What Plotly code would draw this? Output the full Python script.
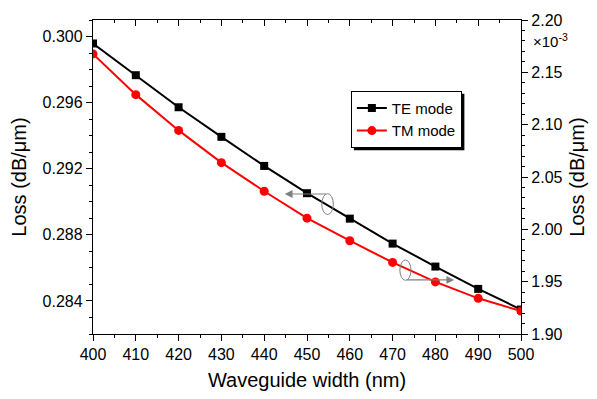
import plotly.graph_objects as go

# Waveguide width sweep (nm)
width_nm = [400, 410, 420, 430, 440, 450, 460, 470, 480, 490, 500]

# TE mode loss (dB/um), left axis
te_loss = [0.29958, 0.29766, 0.29572, 0.29393, 0.29217, 0.29052,
           0.28898, 0.28747, 0.28608, 0.28473, 0.28348]

# TM mode loss (x1e-3 dB/um), right axis
tm_loss_e3 = [2.1676, 2.1287, 2.0945, 2.0637, 2.0364, 2.0107,
              1.9891, 1.9684, 1.9498, 1.9341, 1.9219]

FONT = "Liberation Sans, Arial, sans-serif"
GRAY = "#808080"

fig = go.Figure()

fig.add_trace(go.Scatter(
    x=width_nm, y=te_loss, name="TE mode", mode="lines+markers",
    line=dict(color="black", width=2),
    marker=dict(symbol="square", size=8, color="black"),
    xaxis="x", yaxis="y",
))
fig.add_trace(go.Scatter(
    x=width_nm, y=tm_loss_e3, name="TM mode", mode="lines+markers",
    line=dict(color="#ff0000", width=2),
    marker=dict(symbol="circle", size=9, color="#ff0000"),
    xaxis="x2", yaxis="y2",
))

axis_common = dict(
    showline=True, linecolor="black", linewidth=1.3,
    showgrid=False, zeroline=False,
    tickcolor="black", tickwidth=1.2,
    tickfont=dict(family=FONT, size=16, color="black"),
)

fig.update_layout(
    width=597, height=399,
    margin=dict(l=93, r=73, t=18, b=63),
    paper_bgcolor="white", plot_bgcolor="white",
    font=dict(family=FONT, color="black"),
    xaxis=dict(
        **axis_common, range=[400, 500], tickmode="linear", tick0=400, dtick=10,
        ticks="outside", ticklen=6,
        minor=dict(ticks="outside", ticklen=3, dtick=5, tickcolor="black", tickwidth=1.2),
        title=dict(text="Waveguide width (nm)", font=dict(family=FONT, size=20), standoff=10),
    ),
    xaxis2=dict(
        **axis_common, range=[400, 500], overlaying="x", side="top", anchor="y2",
        tickmode="linear", tick0=400, dtick=10, ticks="inside", ticklen=6,
        showticklabels=False,
        minor=dict(ticks="inside", ticklen=3, dtick=5, tickcolor="black", tickwidth=1.2),
    ),
    yaxis=dict(
        **axis_common, range=[0.282, 0.301], tickmode="linear", tick0=0.284, dtick=0.004,
        tickformat=".3f", ticks="outside", ticklen=6,
        minor=dict(ticks="outside", ticklen=3, tick0=0.282, dtick=0.001,
                   tickcolor="black", tickwidth=1.2),
        title=dict(text="Loss (dB/μm)", font=dict(family=FONT, size=20), standoff=10),
    ),
    yaxis2=dict(
        **axis_common, range=[1.90, 2.20], overlaying="y", side="right", anchor="x2",
        tickmode="linear", tick0=1.90, dtick=0.05, tickformat=".2f",
        ticks="outside", ticklen=6,
        minor=dict(ticks="outside", ticklen=3, dtick=0.01, tickcolor="black", tickwidth=1.2),
        title=dict(text="Loss (dB/μm)", font=dict(family=FONT, size=20), standoff=8),
    ),
    legend=dict(
        x=0.6025, y=0.7745, xanchor="left", yanchor="top",
        bgcolor="white", bordercolor="black", borderwidth=1,
        font=dict(family=FONT, size=15, color="black"),
        itemwidth=30, tracegroupgap=0,
    ),
    showlegend=True,
)

# Drop shadow behind the legend box
fig.add_shape(type="rect", xref="paper", yref="paper",
              x0=0.6095, x1=0.8677, y0=0.585, y1=0.765,
              fillcolor="black", line=dict(width=0), layer="above")

# Axis-indicator ellipses with arrows
fig.add_shape(type="circle", xref="x", yref="y",
              x0=453.45, x1=456.15, y0=0.28923, y1=0.29049,
              line=dict(color=GRAY, width=1))
fig.add_annotation(x=444.8, y=0.29047, ax=454.8, ay=0.29047,
                   xref="x", yref="y", axref="x", ayref="y", text="",
                   showarrow=True, arrowhead=2, arrowsize=1.3, arrowwidth=1.2,
                   arrowcolor=GRAY)
fig.add_shape(type="circle", xref="x2", yref="y2",
              x0=471.7, x1=474.3, y0=1.9513, y1=1.9707,
              line=dict(color=GRAY, width=1))
fig.add_annotation(x=484.4, y=1.9517, ax=473.0, ay=1.9517,
                   xref="x2", yref="y2", axref="x2", ayref="y2", text="",
                   showarrow=True, arrowhead=2, arrowsize=1.3, arrowwidth=1.2,
                   arrowcolor=GRAY)

# Exponent label for the right axis
fig.add_annotation(x=1.024, y=0.934, xref="paper", yref="paper",
                   xanchor="left", yanchor="middle", showarrow=False,
                   text="×10<sup>-3</sup>", font=dict(family=FONT, size=15, color="black"))

fig.write_html("out.html")
